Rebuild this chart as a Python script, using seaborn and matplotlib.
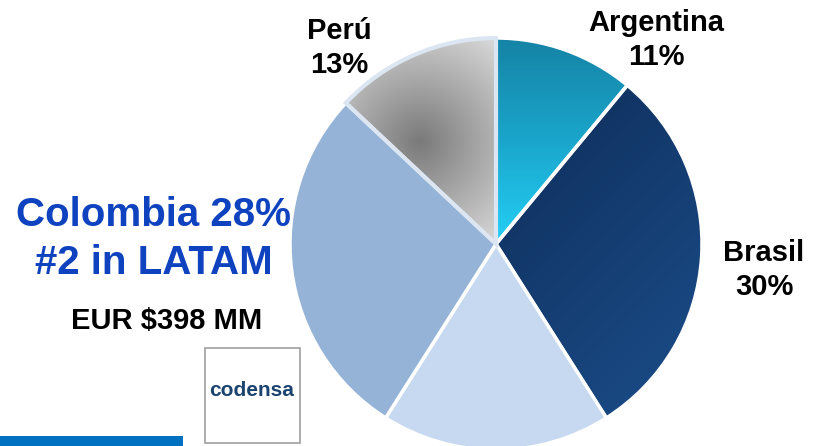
import numpy as np
import seaborn as sns
import matplotlib.pyplot as plt
from matplotlib.patches import Rectangle

# Participación por país (%)
paises = ['Argentina', 'Brasil', 'Chile', 'Colombia', 'Perú']
participacion = [11, 30, 18, 28, 13]
etiquetas = ['Argentina\n11%', 'Brasil\n30%', None, None, 'Perú\n13%']

titulo_colombia = 'Colombia 28%\n#2 in LATAM'
subtitulo = 'EUR $398 MM'
logo = 'codensa'

W, H = 813, 446


def px(x, y):
    """Convierte pixeles (desde arriba-izquierda) a coordenadas de figura."""
    return x / W, 1 - y / H


sns.set_theme(style='white')
plt.rcParams['font.family'] = ['Liberation Sans', 'DejaVu Sans']

fig = plt.figure(figsize=(W / 100, H / 100), dpi=100)
R = 206
cx, cy = 496, 244
ax = fig.add_axes([(cx - R) / W, (H - cy - R) / H, 2 * R / W, 2 * R / H])

colores = ['#1ea9d0', '#13396b', '#c6d9f0', '#95b3d7', '#b0b0b0']
wedges, _ = ax.pie(participacion, startangle=90, counterclock=False,
                   colors=colores,
                   wedgeprops=dict(edgecolor='white', linewidth=2.5))
wedges[4].set_edgecolor('#dce6f2')
wedges[4].set_linewidth(3)

# Degradados (Argentina, Brasil, Perú)
xs = np.linspace(-1, 1, 300)
X, Y = np.meshgrid(xs, xs)
gradientes = {
    0: (Y, sns.blend_palette(['#25cff5', '#1aa6cc', '#1583a5'], as_cmap=True), 0, 1),
    1: (X - Y, sns.blend_palette(['#0d2a55', '#143c70', '#1a4a85'], as_cmap=True), -0.8, 1.6),
    4: (np.hypot(X + 0.37, Y - 0.5), sns.blend_palette(['#7a7a7a', '#a8a8a8', '#d6d6d6'], as_cmap=True), 0, 0.6),
}
for i, (val, cmap, vmin, vmax) in gradientes.items():
    im = ax.imshow(val, cmap=cmap, vmin=vmin, vmax=vmax, extent=[-1, 1, -1, 1],
                   origin='lower', zorder=0.5, interpolation='bilinear')
    im.set_clip_path(wedges[i])
    wedges[i].set_facecolor('none')
    wedges[i].set_zorder(1)

ax.set_xlim(-1, 1)
ax.set_ylim(-1, 1)
ax.set_aspect('equal')
ax.axis('off')

# Etiquetas de los países
pos_etiquetas = {0: (656, 40), 1: (764, 270), 4: (339, 48)}
for i, (x, y) in pos_etiquetas.items():
    fig.text(*px(x, y), etiquetas[i], ha='center', va='center', ma='center',
             fontsize=21, fontweight='bold', color='black', linespacing=1.3)

fig.text(*px(154, 239), titulo_colombia, ha='center', va='center', ma='center',
         fontsize=29, fontweight='bold', color='#0f42bf', linespacing=1.3)
fig.text(*px(167, 321), subtitulo, ha='center', va='center',
         fontsize=21, fontweight='bold', color='black')

# Logo
fig.patches.append(Rectangle(px(205, 443), 95 / W, 95 / H, transform=fig.transFigure,
                             facecolor='white', edgecolor='#a0a0a0', linewidth=1.2))
fig.text(*px(252, 390), logo, ha='center', va='center', fontsize=15,
         color='#1b4370', fontweight='semibold')

# Barra azul inferior
fig.patches.append(Rectangle(px(0, 446), 183 / W, 10 / H, transform=fig.transFigure,
                             facecolor='#0070c0', edgecolor='none'))

plt.savefig('out.png', dpi=100)
plt.close()
